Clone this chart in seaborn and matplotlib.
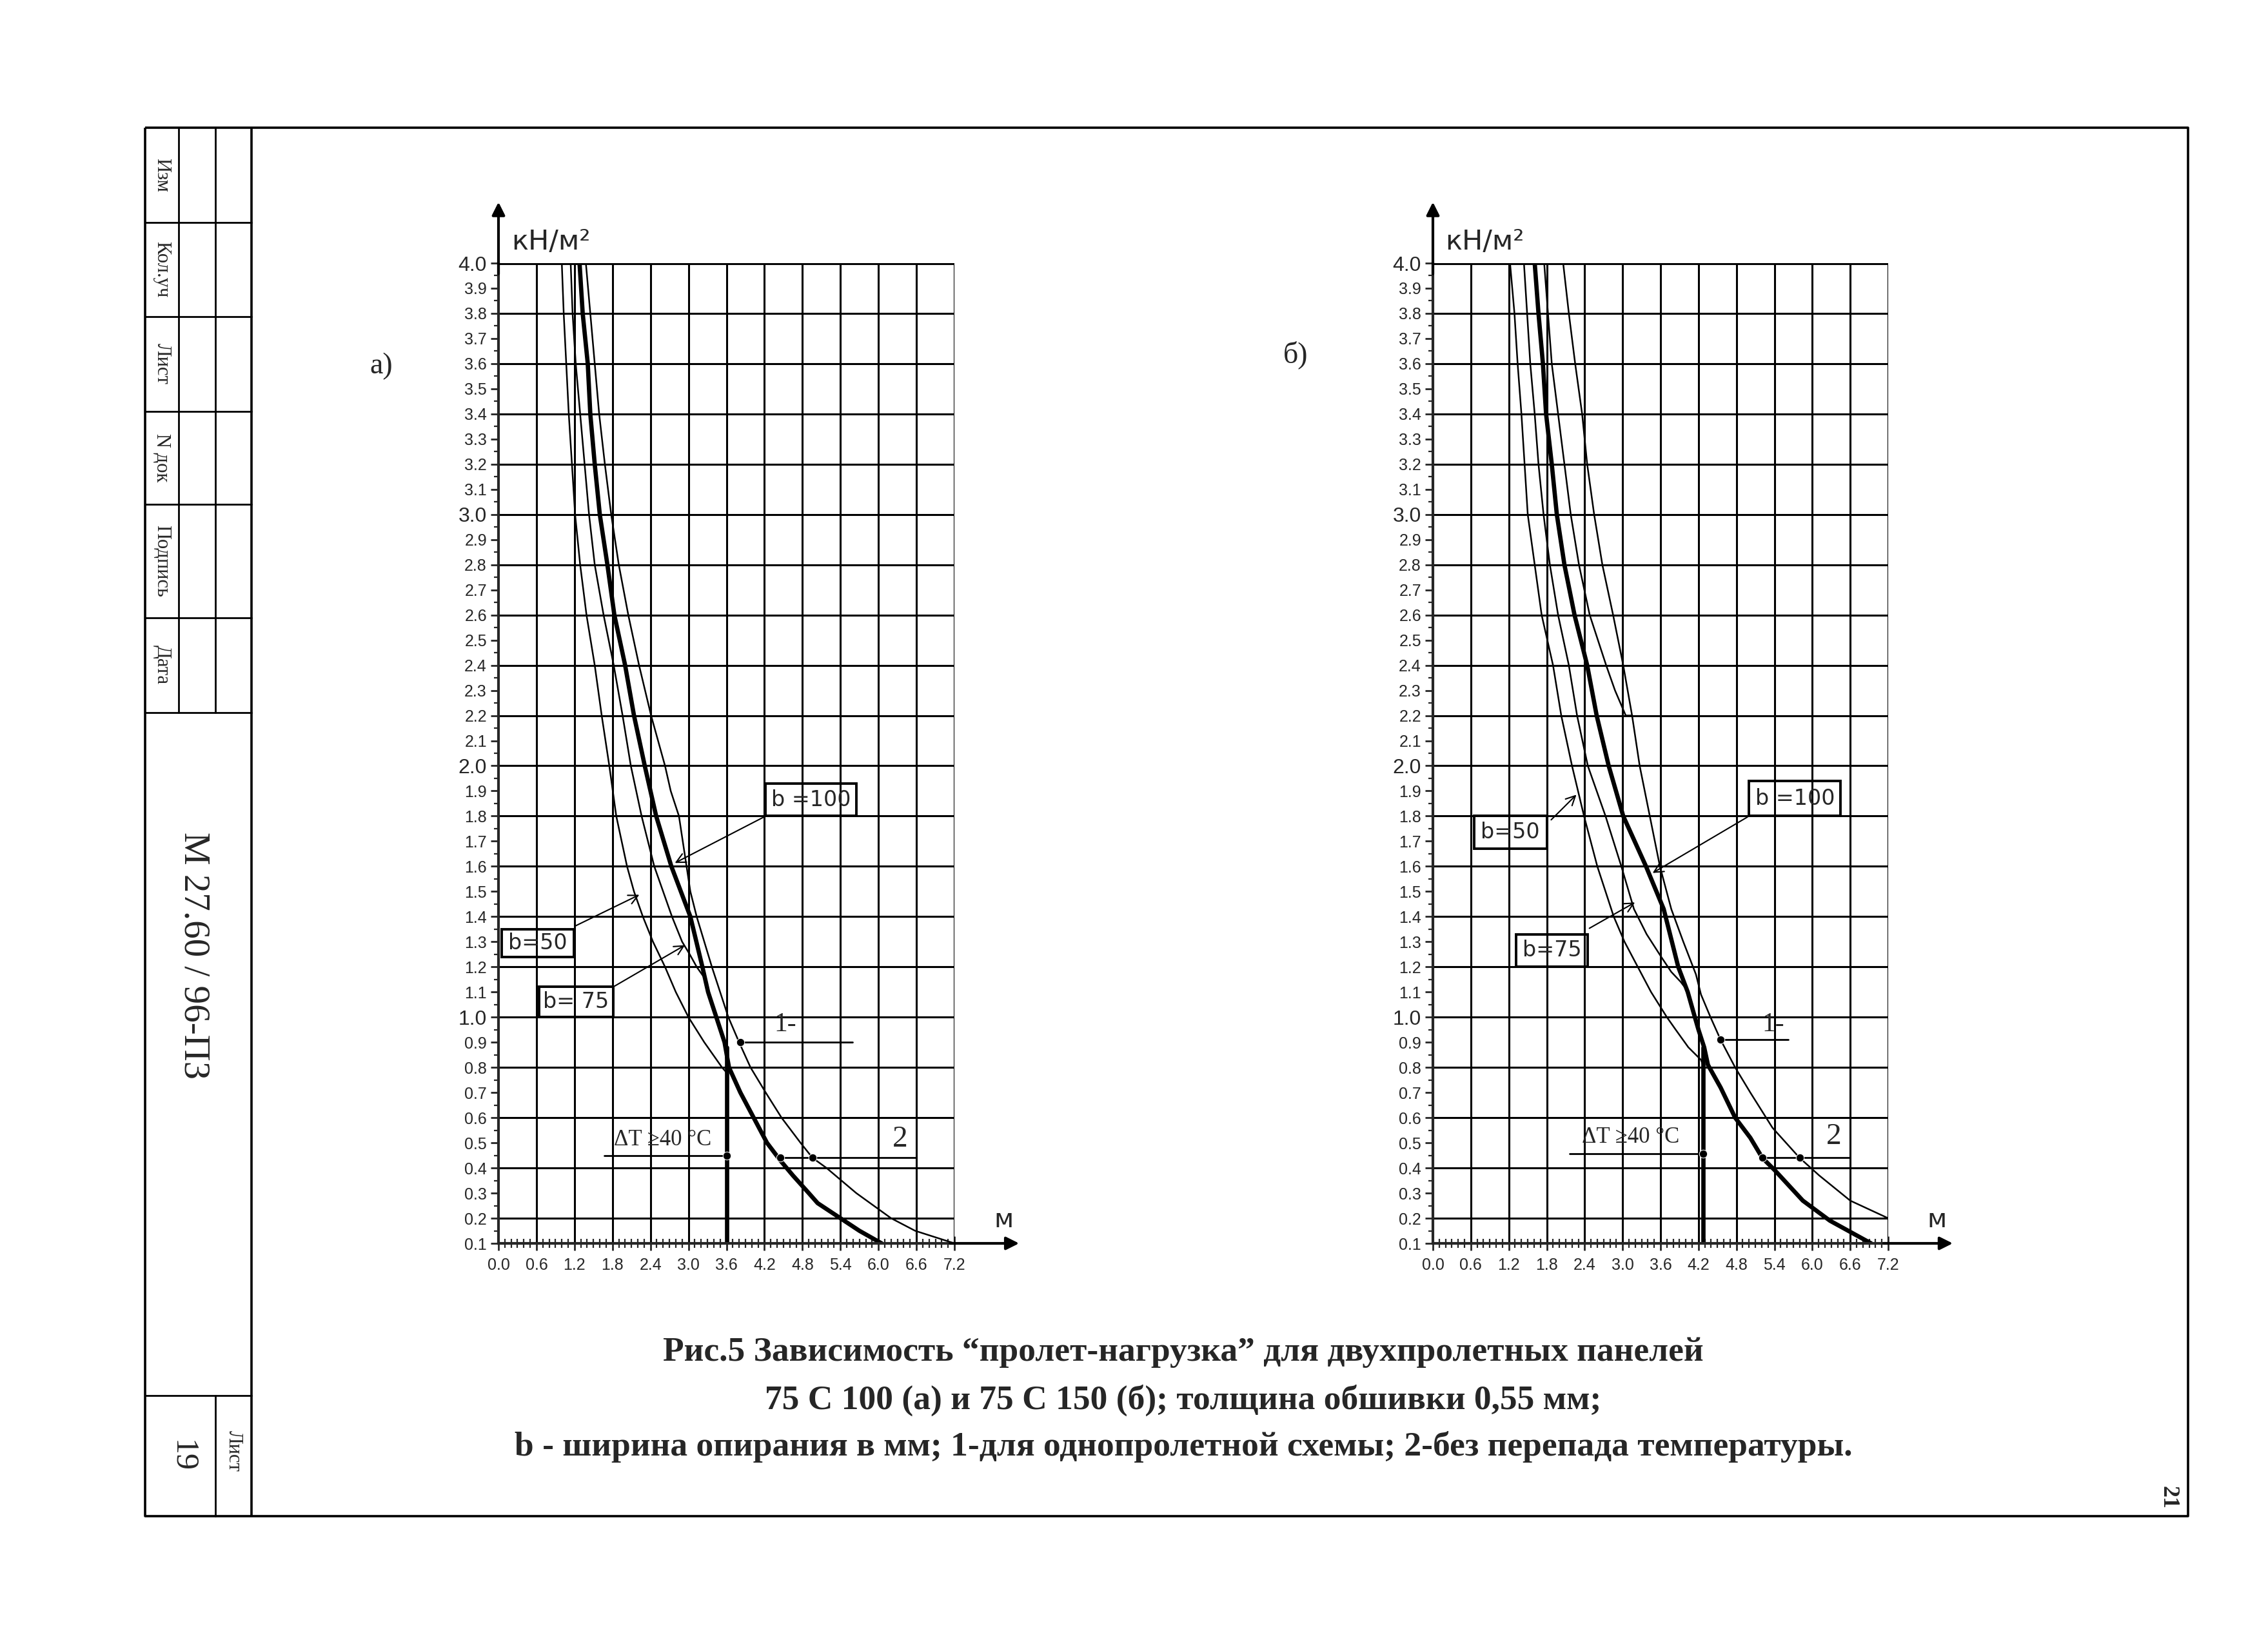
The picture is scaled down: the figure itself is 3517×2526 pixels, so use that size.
import numpy as np
import pandas as pd
import seaborn as sns
import matplotlib.pyplot as plt
from matplotlib.patches import Rectangle

# ---- values (span in m, load in kN/m2) ----
x_ticks = [0.0, 0.6, 1.2, 1.8, 2.4, 3.0, 3.6, 4.2, 4.8, 5.4, 6.0, 6.6, 7.2]
y_ticks = np.round(np.arange(0.1, 4.001, 0.1), 1)
y_grid = np.round(np.arange(0.2, 4.001, 0.2), 1)

# panel a) 75 C 100
a_b50_x = [1.00, 1.03, 1.07, 1.11, 1.16, 1.21, 1.29, 1.39, 1.52, 1.63, 1.75, 1.86, 2.03, 2.14, 2.28, 2.44, 2.63, 2.80, 3.00, 3.25, 3.53, 3.60]
a_b50_y = [4.0, 3.8, 3.6, 3.4, 3.2, 3.0, 2.8, 2.6, 2.4, 2.2, 2.0, 1.8, 1.6, 1.5, 1.4, 1.3, 1.2, 1.1, 1.0, 0.9, 0.8, 0.78]
a_b75_x = [1.14, 1.17, 1.22, 1.29, 1.36, 1.43, 1.52, 1.66, 1.82, 1.96, 2.09, 2.26, 2.46, 2.74, 2.90, 3.02, 3.13, 3.27]
a_b75_y = [4.0, 3.8, 3.6, 3.4, 3.2, 3.0, 2.8, 2.6, 2.4, 2.2, 2.0, 1.8, 1.6, 1.4, 1.3, 1.25, 1.2, 1.15]
a_main_x = [1.28, 1.33, 1.41, 1.45, 1.52, 1.60, 1.72, 1.83, 2.00, 2.14, 2.31, 2.49, 2.73, 3.03, 3.22, 3.31, 3.44, 3.57, 3.64, 3.82, 4.03, 4.24, 4.45, 4.65, 4.90, 5.04, 5.40, 5.70, 6.05]
a_main_y = [4.0, 3.8, 3.6, 3.4, 3.2, 3.0, 2.8, 2.6, 2.4, 2.2, 2.0, 1.8, 1.6, 1.4, 1.2, 1.1, 1.0, 0.9, 0.8, 0.7, 0.6, 0.5, 0.43, 0.37, 0.3, 0.26, 0.2, 0.15, 0.1]
a_single_x = [1.38, 1.45, 1.52, 1.59, 1.68, 1.78, 1.90, 2.05, 2.22, 2.41, 2.63, 2.72, 2.85, 2.97, 3.03, 3.13, 3.37, 3.63, 3.80, 3.98, 4.22, 4.47, 4.77, 4.96, 5.18, 5.65, 6.20, 6.58, 7.20]
a_single_y = [4.0, 3.8, 3.6, 3.4, 3.2, 3.0, 2.8, 2.6, 2.4, 2.2, 2.0, 1.9, 1.8, 1.6, 1.5, 1.4, 1.2, 1.0, 0.9, 0.8, 0.7, 0.6, 0.5, 0.44, 0.4, 0.3, 0.2, 0.15, 0.1]
a_limit_x = [3.60, 3.60]
a_limit_y = [0.88, 0.10]

# panel b) 75 C 150
b_b50_x = [1.22, 1.29, 1.34, 1.40, 1.45, 1.50, 1.61, 1.72, 1.90, 2.03, 2.20, 2.39, 2.60, 2.86, 3.03, 3.24, 3.45, 3.70, 3.84, 4.04, 4.24, 4.27]
b_b50_y = [4.0, 3.8, 3.6, 3.4, 3.2, 3.0, 2.8, 2.6, 2.4, 2.2, 2.0, 1.8, 1.6, 1.4, 1.3, 1.2, 1.1, 1.0, 0.95, 0.88, 0.83, 0.81]
b_b75_x = [1.44, 1.49, 1.54, 1.61, 1.67, 1.75, 1.85, 1.98, 2.15, 2.28, 2.45, 2.73, 2.98, 3.18, 3.38, 3.61, 3.77, 3.92, 4.04]
b_b75_y = [4.0, 3.8, 3.6, 3.4, 3.2, 3.0, 2.8, 2.6, 2.4, 2.2, 2.0, 1.8, 1.6, 1.43, 1.33, 1.24, 1.18, 1.14, 1.1]
b_main_x = [1.61, 1.67, 1.74, 1.79, 1.88, 1.96, 2.08, 2.24, 2.44, 2.59, 2.78, 3.01, 3.37, 3.65, 3.78, 3.88, 4.03, 4.12, 4.20, 4.29, 4.35, 4.55, 4.78, 5.02, 5.21, 5.41, 5.85, 6.28, 6.93]
b_main_y = [4.0, 3.8, 3.6, 3.4, 3.2, 3.0, 2.8, 2.6, 2.4, 2.2, 2.0, 1.8, 1.6, 1.43, 1.3, 1.2, 1.1, 1.02, 0.95, 0.88, 0.81, 0.72, 0.6, 0.52, 0.44, 0.39, 0.27, 0.19, 0.1]
b_b100_x = [1.76, 1.82, 1.88, 1.98, 2.08, 2.18, 2.31, 2.48, 2.74, 2.88, 3.05, 3.15]
b_b100_y = [4.0, 3.8, 3.6, 3.4, 3.2, 3.0, 2.8, 2.6, 2.4, 2.3, 2.2, 2.2]
b_single_x = [2.06, 2.15, 2.25, 2.36, 2.44, 2.55, 2.68, 2.85, 3.01, 3.15, 3.27, 3.43, 3.59, 3.77, 3.96, 4.16, 4.24, 4.39, 4.55, 4.78, 5.02, 5.37, 5.80, 6.11, 6.60, 7.20]
b_single_y = [4.0, 3.8, 3.6, 3.4, 3.2, 3.0, 2.8, 2.6, 2.4, 2.2, 2.0, 1.8, 1.6, 1.43, 1.3, 1.17, 1.09, 1.0, 0.91, 0.8, 0.7, 0.56, 0.44, 0.37, 0.27, 0.2]
b_limit_x = [4.27, 4.27]
b_limit_y = [0.88, 0.10]


def long_df(pairs):
    rows = []
    for name, xs, ys in pairs:
        for i, (xv, yv) in enumerate(zip(xs, ys)):
            rows.append({'curve': name, 'order': i, 'x': xv, 'y': yv})
    return pd.DataFrame(rows)


a_thin = long_df([('b50', a_b50_x, a_b50_y), ('b75', a_b75_x, a_b75_y), ('1', a_single_x, a_single_y)])
a_thick = long_df([('2', a_main_x, a_main_y), ('dT', a_limit_x, a_limit_y)])
b_thin = long_df([('b50', b_b50_x, b_b50_y), ('b75', b_b75_x, b_b75_y), ('b100', b_b100_x, b_b100_y),
                  ('1', b_single_x, b_single_y)])
b_thick = long_df([('2', b_main_x, b_main_y), ('dT', b_limit_x, b_limit_y)])

sns.set_theme(style='ticks')
plt.rcParams['font.family'] = ['Liberation Sans', 'DejaVu Sans']
SERIF = ['Liberation Serif', 'DejaVu Serif']

W, H = 3517, 2526
fig = plt.figure(figsize=(W / 100, H / 100), dpi=100)
fig.patch.set_facecolor('white')

# page frame / title block drawn in pixel coordinates
page = fig.add_axes([0, 0, 1, 1])
page.set_xlim(0, W)
page.set_ylim(H, 0)
page.axis('off')
k = dict(color='black', lw=2.6, solid_capstyle='butt')
page.plot([225, 3393, 3393, 225, 225], [198, 198, 2351, 2351, 198], **k)
page.plot([390, 390], [198, 2351], **k)
page.plot([277, 277], [198, 1105], color='black', lw=2)
page.plot([334, 334], [198, 1105], color='black', lw=2)
page.plot([334, 334], [2164, 2351], color='black', lw=2)
for yy in [345, 491, 638, 782, 958, 1105, 2164]:
    page.plot([225, 390], [yy, yy], color='black', lw=2)
for txt, yc in [('Изм', 271), ('Кол.уч', 418), ('Лист', 564), ('N док', 710), ('Подпись', 870), ('Дата', 1031)]:
    page.text(251, yc, txt, rotation=-90, ha='center', va='center', fontsize=22, family=SERIF)
page.text(300, 1482, 'М 27.60 / 96-ПЗ', rotation=-90, ha='center', va='center', fontsize=41, family=SERIF)
page.text(282, 2258, '19', rotation=-90, ha='center', va='center', fontsize=36, family=SERIF)
page.text(362, 2250, 'Лист', rotation=-90, ha='center', va='center', fontsize=22, family=SERIF)
page.text(3362, 2322, '21', rotation=-90, ha='center', va='center', fontsize=26, family=SERIF, weight='bold')
page.text(591, 568, 'а)', ha='center', va='center', fontsize=33, family=SERIF)
page.text(2009, 550, 'б)', ha='center', va='center', fontsize=33, family=SERIF)
caption = ['Рис.5 Зависимость \u201cпролет-нагрузка\u201d для двухпролетных панелей',
           '75 С 100 (а) и 75 С 150 (б); толщина обшивки 0,55 мм;',
           'b - ширина опирания в мм; 1-для однопролетной схемы; 2-без перепада температуры.']
for txt, yc in zip(caption, [2097, 2171, 2243]):
    page.text(1835, yc, txt, ha='center', va='center', fontsize=38.5, family=SERIF, weight='bold')


def draw_panel(rect, thin, thick, limit_x, dots, boxes, notes):
    ax = fig.add_axes(rect)
    ax.set_facecolor('none')
    ax.set_xlim(0, 7.2)
    ax.set_ylim(0.1, 4.0)

    ax.vlines(x_ticks[1:], 0.1, 4.0, color='black', lw=2.2)
    ax.hlines(y_grid, 0, 7.2, color='black', lw=2.2)
    ax.hlines([4.0], 0, 7.2, color='black', lw=3.5)

    sns.lineplot(data=thin, x='x', y='y', units='curve', estimator=None, sort=False,
                 color='black', lw=1.8, ax=ax)
    sns.lineplot(data=thick, x='x', y='y', units='curve', estimator=None, sort=False,
                 color='black', lw=4.8, ax=ax)

    # leaders for curve 1, curve 2 and the temperature limit
    (x1, y1, x1e), (x2a, x2b, y2, x2e), (xt0, yt) = dots
    ax.plot([x1, x1e], [y1, y1], color='black', lw=2)
    ax.plot([x2a, x2e], [y2, y2], color='black', lw=2)
    ax.plot([xt0, limit_x], [yt, yt], color='black', lw=2)
    sns.scatterplot(x=[x1, x2a, x2b, limit_x], y=[y1, y2, y2, yt], color='black', s=80, ax=ax, zorder=5)

    for label, (bx0, by0, bx1, by1), (sx, sy), (tx, ty) in boxes:
        ax.add_patch(Rectangle((bx0, by0), bx1 - bx0, by1 - by0, fill=False, lw=2.8, ec='black'))
        ax.text((bx0 + bx1) / 2, (by0 + by1) / 2, label, ha='center', va='center', fontsize=24,
                family=['DejaVu Sans'])
        ax.annotate('', xy=(tx, ty), xytext=(sx, sy),
                    arrowprops=dict(arrowstyle='->', lw=1.5, color='black', mutation_scale=26))

    for txt, (tx, ty), size in notes:
        ax.text(tx, ty, txt, fontsize=size, family=SERIF, va='bottom', ha='left')

    # axes with arrows
    for side in ['top', 'right']:
        ax.spines[side].set_visible(False)
    for side in ['left', 'bottom']:
        ax.spines[side].set_linewidth(3)
    ax.annotate('', xy=(0, 4.25), xytext=(0, 3.95), annotation_clip=False,
                arrowprops=dict(arrowstyle='-|>', lw=3, color='black', mutation_scale=30))
    ax.annotate('', xy=(8.25, 0.1), xytext=(7.1, 0.1), annotation_clip=False,
                arrowprops=dict(arrowstyle='-|>', lw=3, color='black', mutation_scale=30))
    ax.text(0.2, 4.03, 'кН/м²', fontsize=31, va='bottom', ha='left', family=['DejaVu Sans'])
    ax.text(7.82, 0.14, 'м', fontsize=29, va='bottom', ha='left', family=['DejaVu Sans'])

    ax.set_xticks(x_ticks)
    ax.set_xticklabels([f'{v:.1f}' for v in x_ticks])
    ax.set_xticks(np.round(np.arange(0.1, 7.2, 0.1), 1), minor=True)
    ax.set_yticks(y_ticks)
    ax.set_yticklabels([f'{v:.1f}' for v in y_ticks])
    ax.set_yticks(np.round(np.arange(0.15, 4.0, 0.1), 2), minor=True)
    ax.tick_params(axis='x', which='major', direction='inout', length=16, width=2, labelsize=18, pad=8)
    ax.tick_params(axis='x', which='minor', direction='inout', length=10, width=1.6)
    ax.tick_params(axis='y', which='major', direction='out', length=9, width=2, labelsize=18, pad=4)
    ax.tick_params(axis='y', which='minor', direction='out', length=5, width=1.6)
    for lab, v in zip(ax.get_yticklabels(), y_ticks):
        if abs(v - round(v)) < 1e-6:
            lab.set_fontsize(23)
    ax.set_xlabel('')
    ax.set_ylabel('')
    return ax


draw_panel([773 / W, 1 - 1928 / H, 707 / W, 1520 / H], a_thin, a_thick, 3.60,
           [(3.82, 0.90, 5.59), (4.45, 4.96, 0.44, 6.59), (1.67, 0.45)],
           [('b =100', (4.22, 1.80, 5.65, 1.93), (4.22, 1.80), (2.76, 1.61)),
            ('b=50', (0.05, 1.24, 1.19, 1.35), (1.19, 1.36), (2.25, 1.49)),
            ('b= 75', (0.64, 1.00, 1.81, 1.12), (1.81, 1.12), (2.97, 1.29))],
           [('ΔT ≥40 °C', (1.82, 0.47), 25), ('1-', (4.35, 0.92), 30), ('2', (6.22, 0.46), 34)])

draw_panel([2222 / W, 1 - 1928 / H, 706 / W, 1520 / H], b_thin, b_thick, 4.27,
           [(4.55, 0.91, 5.62), (5.21, 5.80, 0.44, 6.60), (2.16, 0.456)],
           [('b =100', (5.00, 1.80, 6.45, 1.94), (5.00, 1.80), (3.45, 1.57)),
            ('b=50', (0.65, 1.67, 1.80, 1.80), (1.85, 1.78), (2.29, 1.89)),
            ('b=75', (1.32, 1.20, 2.45, 1.33), (2.45, 1.35), (3.22, 1.46))],
           [('ΔT ≥40 °C', (2.36, 0.48), 25), ('1-', (5.20, 0.92), 30), ('2', (6.22, 0.47), 34)])

fig.savefig('out.png', dpi=100, facecolor='white')
